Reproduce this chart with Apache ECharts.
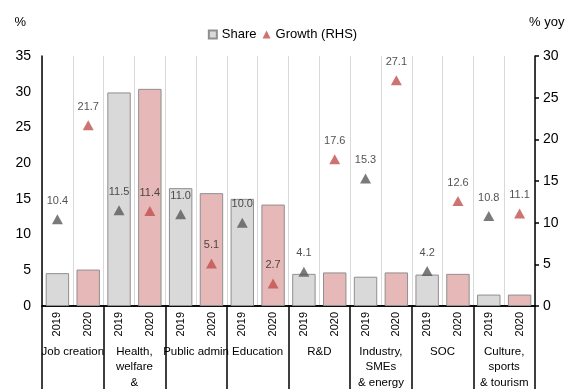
<!DOCTYPE html>
<html>
<head>
<meta charset="utf-8">
<script src="https://cdn.jsdelivr.net/npm/echarts@6/dist/echarts.min.js"></script>
<style>
  html, body { margin: 0; padding: 0; background: #fff; }
  #chart { width: 565px; height: 389px; }
</style>
</head>
<body>
<div id="chart"></div>
<script>
// Sectors and the two budget years shown for each
const sectors = ['Job creation', 'Health,\nwelfare\n&\nemployment', 'Public admin', 'Education',
                 'R&D', 'Industry,\nSMEs\n& energy', 'SOC', 'Culture,\nsports\n& tourism'];
const years = ['2019', '2020'];

// Share of total budget (%), left axis
const share2019 = [4.6, 29.9, 16.5, 15.0, 4.5, 4.1, 4.4, 1.6];
const share2020 = [5.1, 30.4, 15.8, 14.2, 4.7, 4.7, 4.5, 1.6];

// Budget growth (% yoy), right axis
const growth2019 = [10.4, 11.5, 11.0, 10.0, 4.1, 15.3, 4.2, 10.8];
const growth2020 = [21.7, 11.4, 5.1, 2.7, 17.6, 27.1, 12.6, 11.1];

// Axis tick settings
const leftTicks = { min: 0, max: 35, interval: 5 };
const rightTicks = { min: 0, max: 30, interval: 5 };

const GREY_BAR = '#d9d9d9';
const PINK_BAR = '#e6b8b7';
const BAR_EDGE = '#8f8f8f';
const GREY_MARK = '#595959';
const RED_MARK = '#c0504d';
const FONT = 'Liberation Sans, Arial, sans-serif';

// One category per sector/year pair
const cats = [];
const shareData = [];
const growthData = [];
sectors.forEach((s, i) => {
  years.forEach((y, j) => {
    cats.push(s + '|' + y);
    const sv = j === 0 ? share2019[i] : share2020[i];
    const gv = j === 0 ? growth2019[i] : growth2020[i];
    shareData.push({ value: sv, itemStyle: { color: j === 0 ? GREY_BAR : PINK_BAR } });
    growthData.push({ value: gv, itemStyle: { color: j === 0 ? GREY_MARK : RED_MARK } });
  });
});

const chart = echarts.init(document.getElementById('chart'), null, { renderer: 'canvas' });

chart.setOption({
  animation: false,
  backgroundColor: '#fff',
  textStyle: { fontFamily: FONT, color: '#000' },
  legend: {
    top: 23,
    left: 'center',
    itemWidth: 8,
    itemHeight: 8,
    itemGap: 6,
    textStyle: { fontSize: 13, color: '#000', fontFamily: FONT },
    data: [
      { name: 'Share', icon: 'rect' },
      { name: 'Growth (RHS)', icon: 'triangle' }
    ]
  },
  grid: { left: 42, right: 30, top: 56, bottom: 83, containLabel: false, outerBoundsMode: 'none' },
  xAxis: [
    {
      type: 'category',
      data: cats,
      position: 'bottom',
      axisLine: { show: true, lineStyle: { color: '#000', width: 1.5 } },
      axisTick: { show: false },
      splitLine: { show: true, lineStyle: { color: '#d9d9d9', width: 1 } },
      axisLabel: {
        interval: 0,
        rotate: 90,
        margin: 6,
        fontSize: 11,
        color: '#000',
        fontFamily: FONT,
        formatter: v => v.split('|')[1]
      }
    },
    {
      type: 'category',
      data: sectors,
      position: 'bottom',
      axisLine: { show: true, lineStyle: { color: '#000', width: 1.5 } },
      axisTick: { show: true, length: 84, inside: false, lineStyle: { color: '#000', width: 1.5 } },
      splitLine: { show: false },
      axisLabel: {
        interval: 0,
        margin: 38,
        fontSize: 11.5,
        lineHeight: 15.5,
        color: '#000',
        fontFamily: FONT,
        verticalAlign: 'top'
      }
    }
  ],
  yAxis: [
    {
      type: 'value',
      min: leftTicks.min,
      max: leftTicks.max,
      interval: leftTicks.interval,
      name: '%',
      nameLocation: 'end',
      nameGap: 27,
      nameTextStyle: { fontSize: 13, color: '#000', align: 'right', padding: [0, 16, 0, 0], fontFamily: FONT },
      axisLine: { show: true, lineStyle: { color: '#000', width: 1.5 } },
      axisTick: { show: false },
      splitLine: { show: false },
      axisLabel: { fontSize: 14, color: '#000', margin: 11, fontFamily: FONT }
    },
    {
      type: 'value',
      min: rightTicks.min,
      max: rightTicks.max,
      interval: rightTicks.interval,
      position: 'right',
      name: '% yoy',
      nameLocation: 'end',
      nameGap: 27,
      nameTextStyle: { fontSize: 13, color: '#000', align: 'left', padding: [0, 0, 0, -6], fontFamily: FONT },
      axisLine: { show: true, lineStyle: { color: '#000', width: 1.5 } },
      axisTick: { show: true, length: 4, inside: false, lineStyle: { color: '#000', width: 1.5 } },
      splitLine: { show: false },
      axisLabel: { fontSize: 14, color: '#000', margin: 8, fontFamily: FONT }
    }
  ],
  series: [
    {
      name: 'Share',
      type: 'bar',
      xAxisIndex: 0,
      yAxisIndex: 0,
      barCategoryGap: '24%',
      data: shareData,
      itemStyle: { color: GREY_BAR, borderColor: BAR_EDGE, borderWidth: 1 },
      z: 2
    },
    {
      name: 'Growth (RHS)',
      type: 'scatter',
      xAxisIndex: 0,
      yAxisIndex: 1,
      symbol: 'triangle',
      symbolSize: [11, 10],
      data: growthData,
      itemStyle: { color: RED_MARK },
      label: {
        show: true,
        position: 'top',
        distance: 8,
        fontSize: 11,
        color: '#262626',
        fontFamily: FONT,
        formatter: p => p.value.toFixed(1)
      },
      z: 3
    }
  ]
});
</script>
</body>
</html>
